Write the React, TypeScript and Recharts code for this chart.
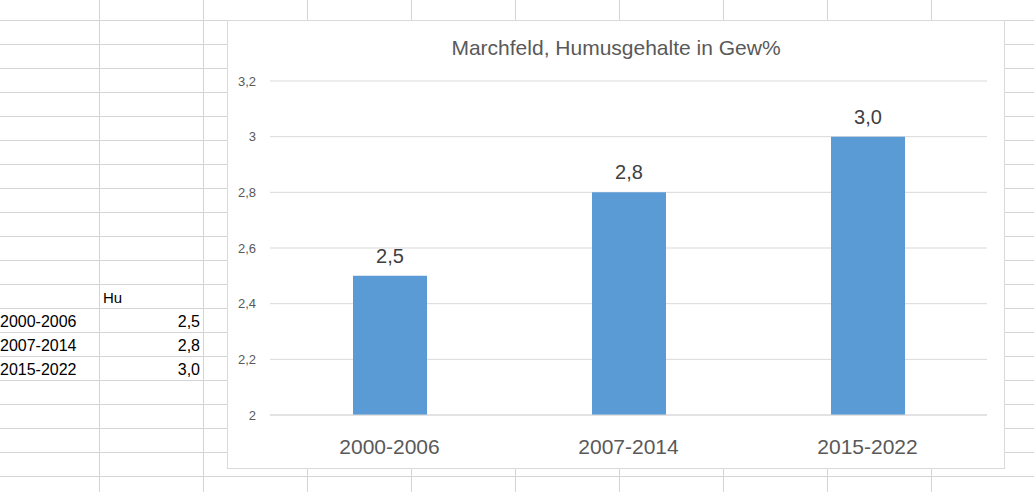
import React from 'react';
import {Bar, BarChart, CartesianGrid, LabelList, XAxis, YAxis} from 'recharts';

// sheet + chart values
const categories = ['2000-2006', '2007-2014', '2015-2022'];
const humus = [2.5, 2.8, 3.0];
const yTicks = [2, 2.2, 2.4, 2.6, 2.8, 3, 3.2];
const columnHeader = 'Hu';
const title = 'Marchfeld, Humusgehalte in Gew%';

const BAR_COLOR = '#5B9BD5';
const GRID_COLOR = '#d9d9d9';
const SHEET_LINE = '#d4d4d4';
const FONT = '"Liberation Sans", Arial, sans-serif';

const data = categories.map((period, i) => ({period, hu: humus[i]}));

const comma = (v: number, digits: number) => v.toFixed(digits).replace('.', ',');
const yFormat = (v: number) => (Number.isInteger(v) ? String(v) : comma(v, 1));

const sheetRows = Array.from({length: 20}, (_, k) => 20.5 + 24 * k);
const sheetCols = Array.from({length: 10}, (_, k) => 99.5 + 104 * k);

/*
Sheet() grid lines and the small data table left of the chart
*/
const Sheet: React.FC = () => (
    <svg width={1034} height={492} style={{position: 'absolute', left: 0, top: 0}}>
        {sheetRows.map(y => <line key={'r' + y} x1={0} x2={1034} y1={y} y2={y} stroke={SHEET_LINE}/>)}
        {sheetCols.map(x => <line key={'c' + x} x1={x} x2={x} y1={0} y2={492} stroke={SHEET_LINE}/>)}
        <text x={103} y={303} fontFamily={FONT} fontSize={15} fill="#000">{columnHeader}</text>
        {categories.map((c, i) => (
            <g key={c}>
                <text x={0} y={327 + 24 * i} fontFamily={FONT} fontSize={16} fill="#000">{c}</text>
                <text x={200} y={327 + 24 * i} textAnchor="end" fontFamily={FONT} fontSize={16}
                      fill="#000">{comma(humus[i], 1)}</text>
            </g>
        ))}
    </svg>
);

const XTick = (props: any) => {
    const {x, y, payload} = props;
    return (
        <text x={x} y={y + 38.5} textAnchor="middle" fontFamily={FONT} fontSize={21} fill="#595959">
            {payload.value}
        </text>
    );
};

const TopLabel = (props: any) => {
    const {x, y, width, value} = props;
    return (
        <text x={x + width / 2} y={y - 13} textAnchor="middle" fontFamily={FONT} fontSize={20} fill="#404040">
            {comma(value, 1)}
        </text>
    );
};

export default function App() {
    return (
        <div style={{position: 'absolute', left: 0, top: 0, width: 1034, height: 492, overflow: 'hidden', background: '#fff'}}>
            <Sheet/>
            <div style={{
                position: 'absolute', left: 227, top: 20, width: 778, height: 449,
                boxSizing: 'border-box', border: '1px solid ' + GRID_COLOR, background: '#fff'
            }}>
                <BarChart width={776} height={447} data={data}
                          margin={{top: 60, right: 17, left: 0, bottom: 0}}>
                    <CartesianGrid vertical={false} stroke={GRID_COLOR}/>
                    <XAxis dataKey="period" height={53} tickSize={0} tickMargin={0}
                           axisLine={{stroke: GRID_COLOR}} tickLine={false} tick={<XTick/>}/>
                    <YAxis domain={[2, 3.2]} ticks={yTicks} width={42} tickSize={0} tickMargin={14}
                           axisLine={false} tickLine={false} tickFormatter={yFormat}
                           tick={{fill: '#595959', fontSize: 13, fontFamily: FONT}}/>
                    <Bar dataKey="hu" fill={BAR_COLOR} barSize={74} isAnimationActive={false}>
                        <LabelList dataKey="hu" content={<TopLabel/>}/>
                    </Bar>
                </BarChart>
                <svg width={776} height={60} style={{position: 'absolute', left: 0, top: 0}}>
                    <text x={388} y={34} textAnchor="middle" fontFamily={FONT} fontSize={21} fill="#595959">
                        {title}
                    </text>
                </svg>
            </div>
        </div>
    );
}
